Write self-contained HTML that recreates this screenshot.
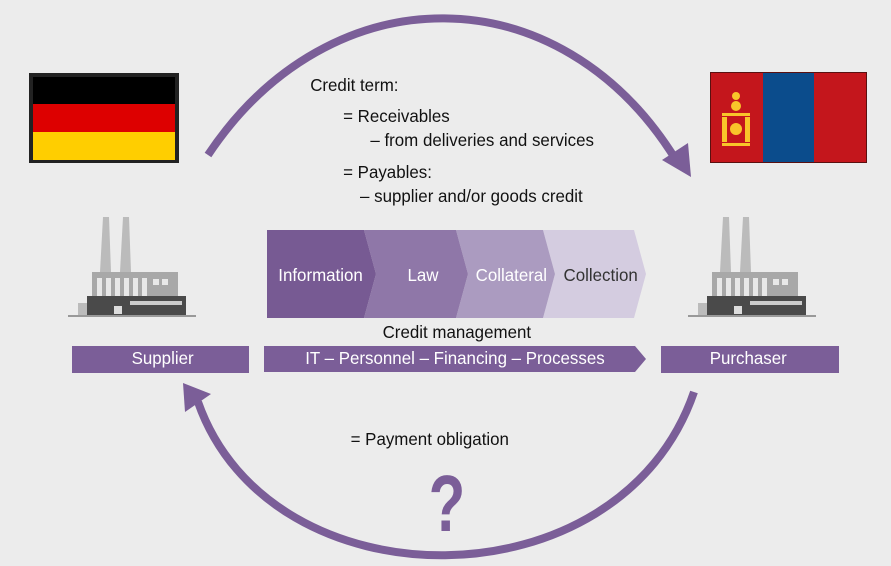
<!DOCTYPE html>
<html><head><style>
body{margin:0;width:891px;height:566px;background:#ececec;overflow:hidden;font-family:"Liberation Sans",sans-serif}
svg{position:absolute;left:0;top:0}
</style></head><body>
<svg width="891" height="566" viewBox="0 0 891 566">
<g font-family="Liberation Sans, sans-serif">
<path d="M208,155 C 330,-28 560,-28 676,160" fill="none" stroke="#7b5e98" stroke-width="8"/>
<polygon points="691,177 662,160 688,143" fill="#7b5e98"/>
<path d="M694,392 C 620,608 270,608 198,402" fill="none" stroke="#7b5e98" stroke-width="8"/>
<polygon points="183,383 211,394 185,412" fill="#7b5e98"/>
<rect x="29" y="73" width="150" height="90" fill="#222"/>
<rect x="33" y="77" width="142" height="27" fill="#000"/>
<rect x="33" y="104" width="142" height="28" fill="#dd0000"/>
<rect x="33" y="132" width="142" height="28" fill="#ffce00"/>
<rect x="710" y="72" width="157" height="91" fill="#5a1010"/>
<rect x="711" y="73" width="52" height="89" fill="#c4161c"/>
<rect x="763" y="73" width="51" height="89" fill="#0b4c8c"/>
<rect x="814" y="73" width="52" height="89" fill="#c4161c"/>
<g fill="#f9c52a">
<circle cx="736" cy="96" r="4"/><circle cx="736" cy="106" r="5"/>
<rect x="722" y="113" width="28" height="3"/><rect x="722" y="143" width="28" height="3"/>
<rect x="722" y="117" width="5" height="25"/><rect x="745" y="117" width="5" height="25"/>
<circle cx="736" cy="129" r="6"/>
</g>
<g id="f">
<polygon points="100,272 103,217 109,217 111,272" fill="#bbb"/>
<polygon points="120,272 123,217 129,217 131,272" fill="#bbb"/>
<rect x="92" y="272" width="86" height="25" fill="#a8a8a8"/>
<g fill="#e8e8e8"><rect x="97" y="278" width="5" height="18"/><rect x="106" y="278" width="5" height="18"/><rect x="115" y="278" width="5" height="18"/><rect x="124" y="278" width="5" height="18"/><rect x="133" y="278" width="5" height="18"/><rect x="142" y="278" width="5" height="18"/><rect x="153" y="279" width="6" height="6"/><rect x="162" y="279" width="6" height="6"/></g>
<rect x="78" y="303" width="14" height="13" fill="#bbb"/>
<rect x="87" y="296" width="99" height="20" fill="#4a4a4a"/>
<rect x="130" y="301" width="52" height="4" fill="#ccc"/>
<rect x="114" y="306" width="8" height="8" fill="#ddd"/>
<rect x="68" y="315" width="128" height="2" fill="#999"/>
</g>
<use href="#f" x="620"/>
<rect x="72" y="346" width="177" height="27" fill="#7b5e98"/>
<rect x="661" y="346" width="178" height="27" fill="#7b5e98"/>
<polygon points="264,346 635,346 646,359 635,372 264,372" fill="#7b5e98"/>
<polygon points="543,230 634,230 646,274 634,318 543,318 555,274" fill="#d4cce0"/>
<polygon points="456,230 543,230 555,274 543,318 456,318 468,274" fill="#ab9bc0"/>
<polygon points="364,230 456,230 468,274 456,318 364,318 376,274" fill="#8f77a8"/>
<polygon points="267,230 364,230 376,274 364,318 267,318" fill="#775a93"/>
<g font-size="18" fill="#fff" text-anchor="middle" transform="scale(0.94,1)">
<text x="341" y="281">Information</text>
<text x="450" y="281">Law</text>
<text x="544" y="281">Collateral</text>
<text x="639" y="281" fill="#333">Collection</text>
<text x="173" y="364">Supplier</text>
<text x="796" y="364">Purchaser</text>
<text x="484" y="364">IT – Personnel – Financing – Processes</text>
<text x="486" y="338" fill="#111">Credit management</text>
</g>
<g font-size="18" fill="#111" transform="scale(0.94,1)">
<text x="330" y="91">Credit term:</text>
<text x="365" y="122">= Receivables</text>
<text x="394" y="146">– from deliveries and services</text>
<text x="365" y="178">= Payables:</text>
<text x="383" y="202">– supplier and/or goods credit</text>
<text x="373" y="445">= Payment obligation</text>
</g>
<text x="447" y="531" font-size="80" font-weight="bold" fill="#7b5e98" text-anchor="middle" transform="translate(447,0) scale(0.75,1) translate(-447,0)">?</text>
</g>
</svg>
</body></html>
